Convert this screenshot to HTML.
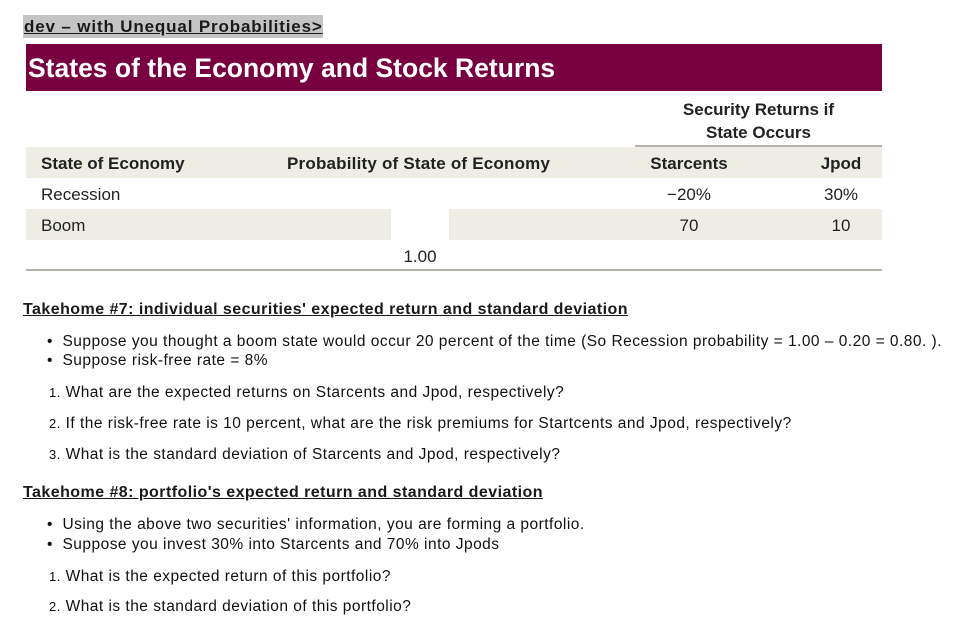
<!DOCTYPE html>
<html><head><meta charset="utf-8"><style>
body{margin:0;width:954px;height:623px;background:#fff;position:relative;overflow:hidden;font-family:"Liberation Sans",sans-serif;color:#1a1a1a}
.a{position:absolute;white-space:nowrap;line-height:1}
.t{font-size:17px;color:#222}
.th{font-size:17px;font-weight:bold;color:#222}
.q{font-size:15.5px;letter-spacing:0.48px;color:#111}
.h{font-size:16px;font-weight:bold;text-decoration:underline;letter-spacing:0.45px}
</style></head><body>
<div class="a" style="left:23px;top:15px;width:300px;height:23px;background:#c4c4c4"></div>
<div class="a" style="left:24px;top:18px;font-size:17px;font-weight:bold;text-decoration:underline;letter-spacing:0.85px;color:#1a1a1a">dev – with Unequal Probabilities&gt;</div>
<div class="a" style="left:26px;top:44px;width:856px;height:47px;background:#780040"></div>
<div class="a" style="left:28px;top:55px;font-size:26.5px;font-weight:bold;color:#fff">States of the Economy and Stock Returns</div>
<div class="a th" style="left:635px;top:98px;width:247px;text-align:center;line-height:23px">Security Returns if<br>State Occurs</div>
<div class="a" style="left:635px;top:145px;width:247px;height:2px;background:#b5b3a8"></div>
<div class="a" style="left:26px;top:147px;width:856px;height:31px;background:#eeede3"></div>
<div class="a" style="left:26px;top:209px;width:365px;height:31px;background:#eeede3"></div>
<div class="a" style="left:449px;top:209px;width:433px;height:31px;background:#eeede3"></div>
<div class="a th" style="left:41px;top:155px">State of Economy</div>
<div class="a th" style="left:287px;top:155px;letter-spacing:0.2px">Probability of State of Economy</div>
<div class="a th" style="left:635px;width:108px;text-align:center;top:155px">Starcents</div>
<div class="a th" style="left:800px;width:82px;text-align:center;top:155px">Jpod</div>
<div class="a t" style="left:41px;top:186px">Recession</div>
<div class="a t" style="left:635px;width:108px;text-align:center;top:186px">−20%</div>
<div class="a t" style="left:800px;width:82px;text-align:center;top:186px">30%</div>
<div class="a t" style="left:41px;top:217px">Boom</div>
<div class="a t" style="left:635px;width:108px;text-align:center;top:217px">70</div>
<div class="a t" style="left:800px;width:82px;text-align:center;top:217px">10</div>
<div class="a t" style="left:391px;width:58px;text-align:center;top:248px">1.00</div>
<div class="a" style="left:26px;top:269px;width:856px;height:2px;background:#b5b3a8"></div>

<div class="a h" style="left:23px;top:302px">Takehome #7: individual securities' expected return and standard deviation</div>
<div class="a q" style="left:47px;top:334px">•&nbsp;&nbsp;Suppose you thought a boom state would occur 20 percent of the time (So Recession probability = 1.00 – 0.20 = 0.80. ).</div>
<div class="a q" style="left:47px;top:353px">•&nbsp;&nbsp;Suppose risk-free rate = 8%</div>
<div class="a q" style="left:49px;top:385px"><span style="font-size:13px">1.</span> What are the expected returns on Starcents and Jpod, respectively?</div>
<div class="a q" style="left:49px;top:416px"><span style="font-size:13px">2.</span> If the risk-free rate is 10 percent, what are the risk premiums for Startcents and Jpod, respectively?</div>
<div class="a q" style="left:49px;top:447px"><span style="font-size:13px">3.</span> What is the standard deviation of Starcents and Jpod, respectively?</div>

<div class="a h" style="left:23px;top:485px">Takehome #8: portfolio's expected return and standard deviation</div>
<div class="a q" style="left:47px;top:517px">•&nbsp;&nbsp;Using the above two securities' information, you are forming a portfolio.</div>
<div class="a q" style="left:47px;top:537px">•&nbsp;&nbsp;Suppose you invest 30% into Starcents and 70% into Jpods</div>
<div class="a q" style="left:49px;top:569px"><span style="font-size:13px">1.</span> What is the expected return of this portfolio?</div>
<div class="a q" style="left:49px;top:599px"><span style="font-size:13px">2.</span> What is the standard deviation of this portfolio?</div>
</body></html>
